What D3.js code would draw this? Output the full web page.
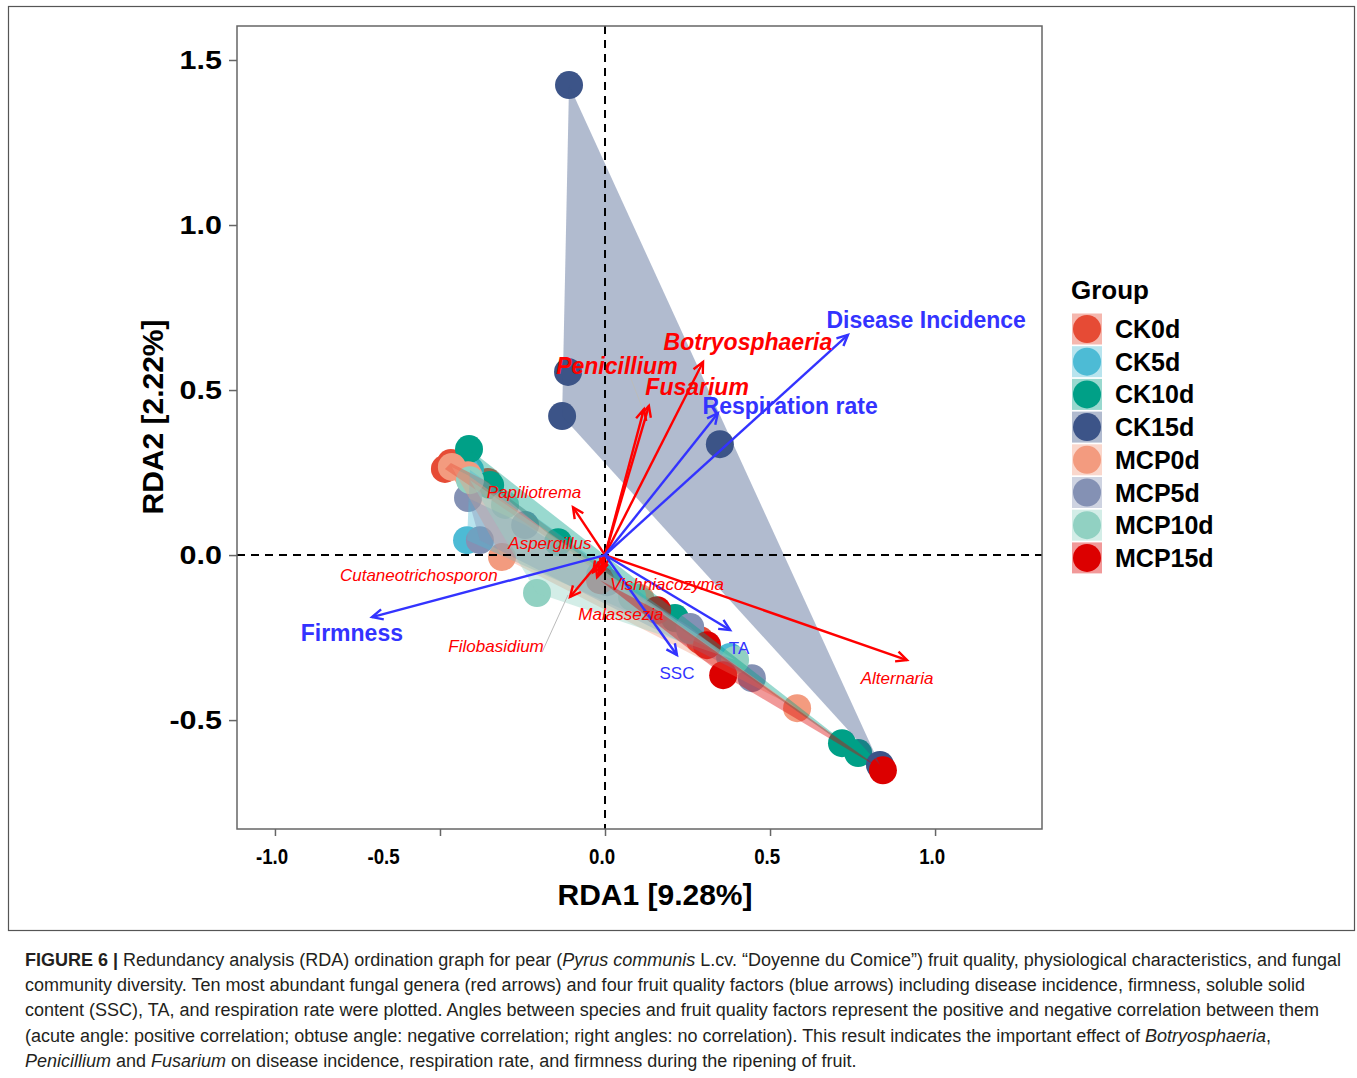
<!DOCTYPE html>
<html>
<head>
<meta charset="utf-8">
<script src="https://cdn.jsdelivr.net/npm/d3@7"></script>
<style>
  body { margin: 0; background: #fff; }
  svg text { font-family: "Liberation Sans", Arial, sans-serif; }
</style>
</head>
<body>
<svg id="fig" width="1357" height="1078"></svg>
<script>
  /*
   * Data
   */

  // Groups and colours (ggsci npg)
  var GROUPS = ["CK0d", "CK5d", "CK10d", "CK15d", "MCP0d", "MCP5d", "MCP10d", "MCP15d"];
  var GROUP_COLORS = ["#E64B35", "#4DBBD5", "#00A087", "#3C5488",
                      "#F39B7F", "#8491B4", "#91D1C2", "#DC0000"];

  // Sample scores [RDA1, RDA2] per group
  var PTS_CK0D = [[-0.485, 0.261], [-0.467, 0.279], [-0.355, 0.221], [0.106, -0.136], [0.288, -0.258]];
  var PTS_CK5D = [[-0.418, 0.045], [-0.409, 0.258], [-0.015, -0.061], [0.258, -0.227], [0.379, -0.309]];
  var PTS_CK10D = [[-0.412, 0.321], [-0.348, 0.212], [-0.142, 0.039], [0.212, -0.191], [0.718, -0.570], [0.767, -0.600]];
  var PTS_CK15D = [[-0.109, 1.424], [-0.112, 0.555], [-0.130, 0.421], [0.348, 0.336], [0.833, -0.636]];
  var PTS_MCP0D = [[-0.464, 0.267], [-0.415, 0.242], [-0.312, -0.006], [0.106, -0.130], [0.582, -0.464]];
  var PTS_MCP5D = [[-0.415, 0.173], [-0.379, 0.045], [-0.242, 0.091], [0.006, -0.082], [0.258, -0.218], [0.445, -0.373]];
  var PTS_MCP10D = [[-0.409, 0.227], [-0.303, 0.152], [-0.206, -0.115], [0.082, -0.127], [0.394, -0.318]];
  var PTS_MCP15D = [[-0.015, -0.076], [0.158, -0.167], [0.309, -0.273], [0.358, -0.364], [0.842, -0.652]];
  var GROUP_POINTS = [PTS_CK0D, PTS_CK5D, PTS_CK10D, PTS_CK15D, PTS_MCP0D, PTS_MCP5D, PTS_MCP10D, PTS_MCP15D];

  // Fungal genera (red arrows): arrow tips and label anchors, data units
  var GENERA = ["Botryosphaeria", "Penicillium", "Fusarium", "Papiliotrema", "Aspergillus",
                "Cutaneotrichosporon", "Vishniacozyma", "Malassezia", "Filobasidium", "Alternaria"];
  var GENERA_X = [0.297, 0.118, 0.133, -0.097, -0.024, -0.036, -0.006, -0.015, -0.106, 0.915];
  var GENERA_Y = [0.585, 0.442, 0.452, 0.145, -0.067, -0.052, -0.039, -0.055, -0.127, -0.318];
  var GENERA_LX = [0.433, 0.036, 0.279, -0.215, -0.167, -0.564, 0.188, 0.048, -0.330, 0.885];
  var GENERA_LY = [0.645, 0.573, 0.509, 0.191, 0.036, -0.061, -0.088, -0.179, -0.276, -0.373];
  var KEY_GENERA = ["Botryosphaeria", "Penicillium", "Fusarium"];
  var LEADER_GENERA = ["Penicillium", "Filobasidium"];

  // Fruit quality factors (blue arrows)
  var FACTORS = ["Disease Incidence", "Respiration rate", "Firmness", "TA", "SSC"];
  var FACTORS_X = [0.736, 0.342, -0.706, 0.379, 0.218];
  var FACTORS_Y = [0.667, 0.430, -0.188, -0.227, -0.303];
  var FACTORS_LX = [0.973, 0.561, -0.767, 0.406, 0.218];
  var FACTORS_LY = [0.712, 0.452, -0.236, -0.282, -0.358];
  var KEY_FACTORS = ["Disease Incidence", "Respiration rate", "Firmness"];

  // Axes
  var X_TICKS = [-1.0, -0.5, 0.0, 0.5, 1.0];
  var Y_TICKS = [-0.5, 0.0, 0.5, 1.0, 1.5];
  var X_TITLE = "RDA1 [9.28%]";
  var Y_TITLE = "RDA2 [2.22%]";

  /*
   * Layout
   */
  var PANEL = { left: 237, right: 1042, top: 26, bottom: 829 };
  var RED = "#FF0000";
  var BLUE = "#3333FF";
  var HULL_ALPHA = 0.4;
  var POINT_R = 14;

  var svg = d3.select("#fig");

  var X = d3.scaleLinear().domain([-1.115, 1.324]).range([PANEL.left, PANEL.right]);
  var Y = d3.scaleLinear().domain([-0.830, 1.603]).range([PANEL.bottom, PANEL.top]);

  // outer figure frame
  svg.append("rect")
    .attr("x", 8.5).attr("y", 6.5)
    .attr("width", 1346).attr("height", 924)
    .attr("fill", "none")
    .attr("stroke", "#555")
    .attr("stroke-width", 1.2);

  var plot = svg.append("g");

  // points first
  GROUPS.forEach(function (g, i) {
    plot.append("g").selectAll("circle")
      .data(GROUP_POINTS[i])
      .enter().append("circle")
      .attr("cx", function (d) { return X(d[0]); })
      .attr("cy", function (d) { return Y(d[1]); })
      .attr("r", POINT_R)
      .attr("fill", GROUP_COLORS[i]);
  });

  // convex hulls on top, translucent
  GROUPS.forEach(function (g, i) {
    var px = GROUP_POINTS[i].map(function (d) { return [X(d[0]), Y(d[1])]; });
    var hull = d3.polygonHull(px);
    plot.append("path")
      .attr("d", "M" + hull.join("L") + "Z")
      .attr("fill", GROUP_COLORS[i])
      .attr("fill-opacity", HULL_ALPHA)
      .attr("stroke", "none");
  });

  // dashed zero lines
  plot.append("line")
    .attr("x1", X(0)).attr("x2", X(0))
    .attr("y1", PANEL.top).attr("y2", PANEL.bottom)
    .attr("stroke", "#000").attr("stroke-width", 2)
    .attr("stroke-dasharray", "8,6");
  plot.append("line")
    .attr("x1", PANEL.left).attr("x2", PANEL.right)
    .attr("y1", Y(0)).attr("y2", Y(0))
    .attr("stroke", "#000").attr("stroke-width", 2)
    .attr("stroke-dasharray", "8,6");

  // arrow with open head
  function arrow(g, x, y, color) {
    var x0 = X(0), y0 = Y(0), x1 = X(x), y1 = Y(y);
    var a = Math.atan2(y1 - y0, x1 - x0);
    var len = 12, spread = Math.PI / 7;
    g.append("line")
      .attr("x1", x0).attr("y1", y0).attr("x2", x1).attr("y2", y1)
      .attr("stroke", color).attr("stroke-width", 2.4);
    g.append("path")
      .attr("d", "M" + (x1 - len * Math.cos(a - spread)) + "," + (y1 - len * Math.sin(a - spread)) +
                 "L" + x1 + "," + y1 +
                 "L" + (x1 - len * Math.cos(a + spread)) + "," + (y1 - len * Math.sin(a + spread)))
      .attr("fill", "none").attr("stroke", color).attr("stroke-width", 2.4);
  }

  var arrows = plot.append("g");
  var labels = plot.append("g");

  // genera (red)
  GENERA.forEach(function (name, i) {
    arrow(arrows, GENERA_X[i], GENERA_Y[i], RED);
    if (LEADER_GENERA.indexOf(name) >= 0) {
      // ggrepel style leader from label to arrow tip
      var lx = X(GENERA_LX[i]), ly = Y(GENERA_LY[i]);
      var tx = X(GENERA_X[i]), ty = Y(GENERA_Y[i]);
      var dy = ty > ly ? 10 : 6;
      labels.append("line")
        .attr("x1", lx + (name == "Penicillium" ? 13 : 46)).attr("y1", ly + dy)
        .attr("x2", tx - 2).attr("y2", ty - 2)
        .attr("stroke", "#bbb").attr("stroke-width", 1);
    }
    var key = KEY_GENERA.indexOf(name) >= 0;
    labels.append("text")
      .attr("x", X(GENERA_LX[i]))
      .attr("y", Y(GENERA_LY[i]))
      .attr("dy", "0.36em")
      .attr("text-anchor", "middle")
      .attr("fill", RED)
      .attr("font-style", "italic")
      .attr("font-weight", key ? "bold" : "normal")
      .attr("font-size", key ? 23 : 17)
      .text(name);
  });

  // factors (blue)
  FACTORS.forEach(function (name, i) {
    arrow(arrows, FACTORS_X[i], FACTORS_Y[i], BLUE);
    var key = KEY_FACTORS.indexOf(name) >= 0;
    labels.append("text")
      .attr("x", X(FACTORS_LX[i]))
      .attr("y", Y(FACTORS_LY[i]))
      .attr("dy", "0.36em")
      .attr("text-anchor", "middle")
      .attr("fill", BLUE)
      .attr("font-weight", key ? "bold" : "normal")
      .attr("font-size", key ? 23 : 17)
      .text(name);
  });

  // panel border
  svg.append("rect")
    .attr("x", PANEL.left).attr("y", PANEL.top)
    .attr("width", PANEL.right - PANEL.left)
    .attr("height", PANEL.bottom - PANEL.top)
    .attr("fill", "none")
    .attr("stroke", "#666")
    .attr("stroke-width", 1.5);

  /*
   * Axes
   */
  var xAxis = svg.append("g")
    .attr("transform", "translate(0," + PANEL.bottom + ")")
    .call(d3.axisBottom(X).tickValues(X_TICKS).tickSize(7).tickPadding(12)
      .tickFormat(function (d) { return d.toFixed(1); }));
  xAxis.select(".domain").remove();
  xAxis.selectAll(".tick line").attr("stroke", "#666").attr("stroke-width", 1.5);
  xAxis.selectAll(".tick text")
    .attr("fill", "#000")
    .attr("font-size", 22)
    .attr("font-weight", "bold")
    .attr("font-family", "Liberation Sans, Arial, sans-serif")
    .attr("transform", function () {
      var yy = +d3.select(this).attr("y");
      return "translate(0," + yy + ") scale(0.85,1) translate(0," + (-yy) + ")";
    })
    // the -0.5 label sits left of its tick in the original figure
    .attr("dx", function (d) { return d == -0.5 ? -67 : -4; });

  var yAxis = svg.append("g")
    .attr("transform", "translate(" + PANEL.left + ",0)")
    .call(d3.axisLeft(Y).tickValues(Y_TICKS).tickSize(8)
      .tickFormat(function (d) { return d.toFixed(1); }));
  yAxis.select(".domain").remove();
  yAxis.selectAll(".tick line").attr("stroke", "#666").attr("stroke-width", 1.5);
  yAxis.selectAll(".tick text")
    .attr("x", 0)
    .attr("fill", "#000")
    .attr("font-size", 25)
    .attr("font-weight", "bold")
    .attr("font-family", "Liberation Sans, Arial, sans-serif")
    .attr("transform", "translate(-15,0) scale(1.22,1)");

  svg.append("text")
    .attr("x", 655).attr("y", 905)
    .attr("text-anchor", "middle")
    .attr("font-size", 30)
    .attr("font-weight", "bold")
    .text(X_TITLE);

  svg.append("text")
    .attr("transform", "translate(163,417) rotate(-90)")
    .attr("text-anchor", "middle")
    .attr("font-size", 30)
    .attr("font-weight", "bold")
    .text(Y_TITLE);

  /*
   * Legend
   */
  var legend = svg.append("g").attr("transform", "translate(1071,0)");
  legend.append("text")
    .attr("x", 0).attr("y", 299)
    .attr("font-size", 26)
    .attr("font-weight", "bold")
    .text("Group");

  var rows = legend.selectAll(".row")
    .data(GROUPS)
    .enter().append("g")
    .attr("class", "row")
    .attr("transform", function (d, i) { return "translate(0," + (329 + i * 32.7) + ")"; });
  rows.append("rect")
    .attr("x", 1).attr("y", -15.5)
    .attr("width", 30).attr("height", 31)
    .attr("fill", function (d, i) { return GROUP_COLORS[i]; })
    .attr("fill-opacity", HULL_ALPHA);
  rows.append("circle")
    .attr("cx", 16).attr("cy", 0).attr("r", POINT_R)
    .attr("fill", function (d, i) { return GROUP_COLORS[i]; });
  rows.append("text")
    .attr("x", 44).attr("y", 0).attr("dy", "0.36em")
    .attr("font-size", 25)
    .attr("font-weight", "bold")
    .text(function (d) { return d; });

  /*
   * Caption
   */
  var CAPTION = [
    [["b", "FIGURE 6 |"], ["", " Redundancy analysis (RDA) ordination graph for pear ("], ["i", "Pyrus communis"],
     ["", " L.cv. \u201cDoyenne du Comice\u201d) fruit quality, physiological characteristics, and fungal"]],
    [["", "community diversity. Ten most abundant fungal genera (red arrows) and four fruit quality factors (blue arrows) including disease incidence, firmness, soluble solid"]],
    [["", "content (SSC), TA, and respiration rate were plotted. Angles between species and fruit quality factors represent the positive and negative correlation between them"]],
    [["", "(acute angle: positive correlation; obtuse angle: negative correlation; right angles: no correlation). This result indicates the important effect of "],
     ["i", "Botryosphaeria"], ["", ","]],
    [["i", "Penicillium"], ["", " and "], ["i", "Fusarium"],
     ["", " on disease incidence, respiration rate, and firmness during the ripening of fruit."]]
  ];
  CAPTION.forEach(function (line, i) {
    var t = svg.append("text")
      .attr("x", 25).attr("y", 966 + i * 25.2)
      .attr("font-size", 18)
      .attr("fill", "#231F20");
    line.forEach(function (part) {
      t.append("tspan")
        .attr("font-weight", part[0] == "b" ? "bold" : "normal")
        .attr("font-style", part[0] == "i" ? "italic" : "normal")
        .text(part[1]);
    });
  });
</script>
</body>
</html>
